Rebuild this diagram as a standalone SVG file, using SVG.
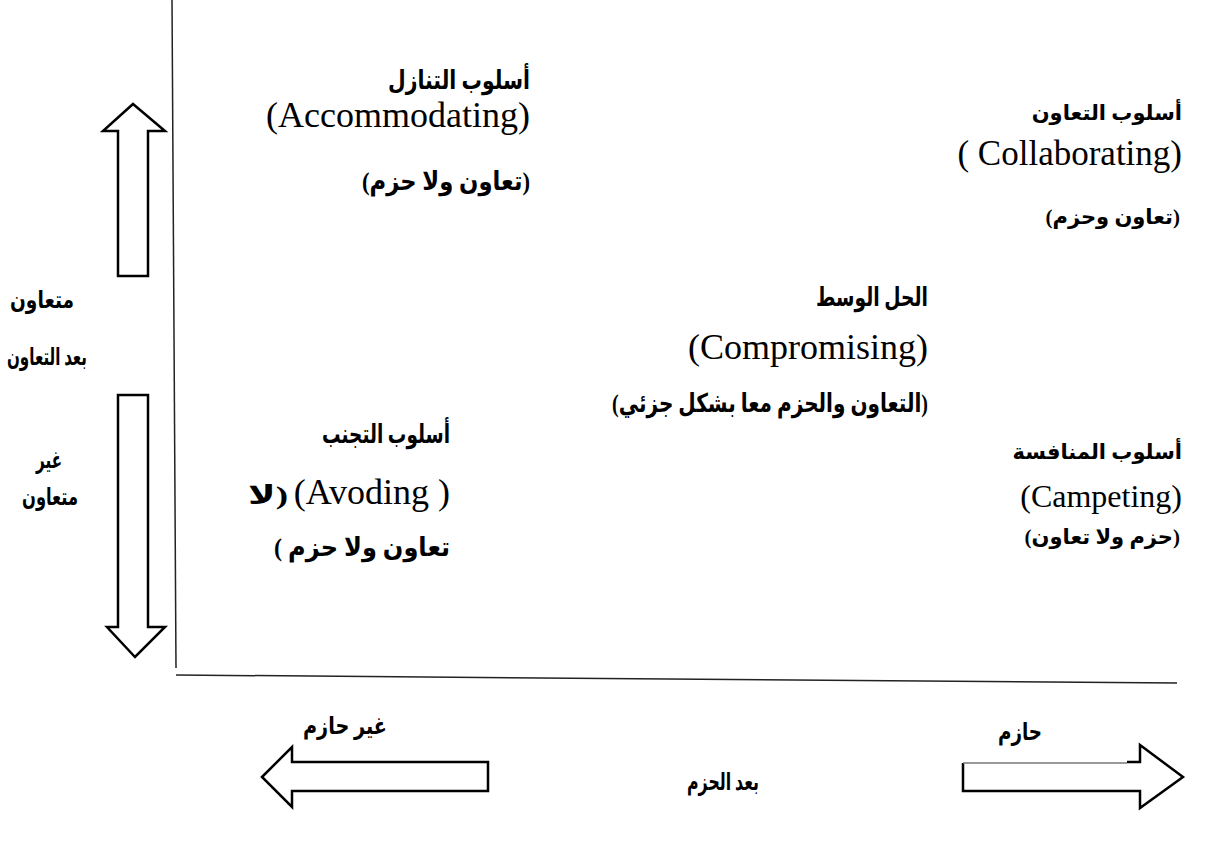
<svg xmlns="http://www.w3.org/2000/svg" width="1208" height="853" viewBox="0 0 1208 853">
  <style>
    .ar { font-family: "Liberation Serif", "DejaVu Sans", serif; font-weight: bold; font-size: 26px; fill: #000; text-anchor: end; }
    .rtl { direction: rtl; unicode-bidi: embed; text-anchor: start; }
    .lbl { font-size: 24px; }
    .mid { text-anchor: middle; }
    .en { font-family: "Liberation Serif", serif; font-size: 36px; fill: #000; text-anchor: end; }
    .axis { fill: none; stroke: #222; stroke-width: 1.5; }
    .block { fill: #fff; stroke: #000; stroke-width: 2.5; stroke-linejoin: miter; }
  </style>

  <!-- axes and dimension arrows -->
  <g id="connectors">
    <line class="axis" x1="172" y1="0" x2="176" y2="668"/>
    <line class="axis" x1="176" y1="675" x2="1177" y2="683"/>
    <!-- cooperative (up) -->
    <polygon class="block" points="133,104 165,131 148,131 148,276 118,276 118,131 103,131"/>
    <!-- uncooperative (down) -->
    <polygon class="block" points="118,395 148,395 148,627 165,627 135,657 107,627 118,627"/>
    <!-- unassertive (left) -->
    <polygon class="block" points="262,777 292,747 292,762 488,762 488,791 292,791 292,807"/>
    <!-- assertive (right) -->
    <path class="block" d="M963,763 L963,791 L1140,791 L1140,808 L1183,777 L1140,745 L1140,762 L1127,762"/>
    <line x1="963" y1="763" x2="1127" y2="763" stroke="#777" stroke-width="1.5"/>
  </g>

  <!-- axis labels -->
  <g id="axis-labels">
    <text class="ar lbl mid" x="42" y="308" textLength="64" lengthAdjust="spacingAndGlyphs">متعاون</text>
    <text class="ar lbl mid" x="47" y="365" textLength="80" lengthAdjust="spacingAndGlyphs">بعد التعاون</text>
    <text class="ar lbl mid" x="49" y="468" textLength="26" lengthAdjust="spacingAndGlyphs">غير</text>
    <text class="ar lbl mid" x="50" y="505" textLength="56" lengthAdjust="spacingAndGlyphs">متعاون</text>
    <text class="ar lbl mid" x="345" y="734" textLength="84" lengthAdjust="spacingAndGlyphs">غير حازم</text>
    <text class="ar lbl mid" x="723" y="790" textLength="72" lengthAdjust="spacingAndGlyphs">بعد الحزم</text>
    <text class="ar lbl mid" x="1020" y="740" textLength="44" lengthAdjust="spacingAndGlyphs">حازم</text>
  </g>

  <g id="accommodating">
    <text class="ar" x="530" y="89" textLength="142" lengthAdjust="spacingAndGlyphs">أسلوب التنازل</text>
    <text class="en" x="530" y="127">(Accommodating)</text>
    <text class="ar" x="530" y="190" textLength="168" lengthAdjust="spacingAndGlyphs">(تعاون ولا حزم)</text>
  </g>

  <g id="collaborating">
    <text class="ar" x="1182" y="120" style="font-size:21px">أسلوب التعاون</text>
    <text class="en" x="1182" y="165" style="font-size:35px">( Collaborating)</text>
    <text class="ar" x="1180" y="224" style="font-size:21px">(تعاون وحزم)</text>
  </g>

  <g id="compromising">
    <text class="ar" x="928" y="306" textLength="112" lengthAdjust="spacingAndGlyphs">الحل الوسط</text>
    <text class="en" x="928" y="359">(Compromising)</text>
    <text class="ar" x="928" y="412" textLength="316" lengthAdjust="spacingAndGlyphs">(التعاون والحزم معا بشكل جزئي)</text>
  </g>

  <g id="avoiding">
    <text class="ar" x="450" y="443" textLength="128" lengthAdjust="spacingAndGlyphs">أسلوب التجنب</text>
    <text class="en" x="450" y="504">(Avoding )</text>
    <text class="ar rtl" x="288" y="504" textLength="40" lengthAdjust="spacingAndGlyphs">(لا</text>
    <text class="ar rtl" x="450" y="556" textLength="176" lengthAdjust="spacingAndGlyphs">تعاون ولا حزم )</text>
  </g>

  <g id="competing">
    <text class="ar" x="1182" y="459" style="font-size:21px">أسلوب المنافسة</text>
    <text class="en" x="1182" y="507" style="font-size:32px">(Campeting)</text>
    <text class="ar" x="1180" y="544" style="font-size:21px">(حزم ولا تعاون)</text>
  </g>
</svg>
